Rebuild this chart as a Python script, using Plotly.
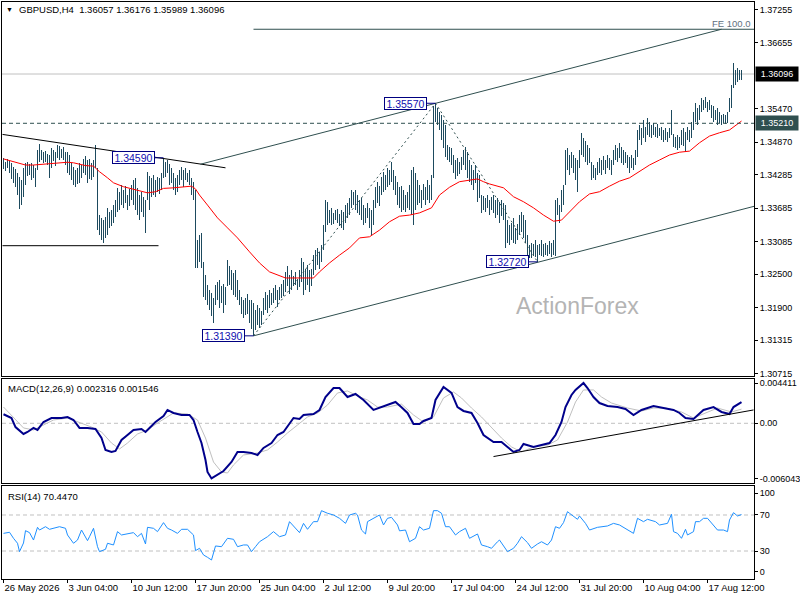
import plotly.graph_objects as go

# ---------------- data ----------------
title_text = "GBPUSD,H4\u00a0\u00a01.36057 1.36176 1.35989 1.36096"

highs = [
    1.3458, 1.3452, 1.3456, 1.3454, 1.3449, 1.3443, 1.3438, 1.3431, 1.3424, 1.3419,
    1.3440, 1.3449, 1.3451, 1.3447, 1.3449, 1.3446, 1.3440, 1.3473, 1.3483, 1.3473,
    1.3469, 1.3471, 1.3465, 1.3464, 1.3476, 1.3473, 1.3469, 1.3482, 1.3480, 1.3474,
    1.3478, 1.3469, 1.3469, 1.3464, 1.3449, 1.3442, 1.3437, 1.3440, 1.3449, 1.3446,
    1.3456, 1.3462, 1.3455, 1.3456, 1.3449, 1.3455, 1.3482, 1.3440, 1.3356, 1.3351,
    1.3347, 1.3352, 1.3368, 1.3361, 1.3365, 1.3374, 1.3383, 1.3405, 1.3397, 1.3410,
    1.3401, 1.3408, 1.3392, 1.3403, 1.3410, 1.3419, 1.3422, 1.3405, 1.3392, 1.3397,
    1.3388, 1.3383, 1.3433, 1.3426, 1.3422, 1.3428, 1.3419, 1.3424, 1.3422, 1.3431,
    1.3459, 1.3451, 1.3455, 1.3447, 1.3440, 1.3431, 1.3422, 1.3428, 1.3437, 1.3442,
    1.3437, 1.3440, 1.3431, 1.3437, 1.3422, 1.3415, 1.3401, 1.3311, 1.3320, 1.3324,
    1.3271, 1.3248, 1.3230, 1.3221, 1.3216, 1.3207, 1.3230, 1.3235, 1.3239, 1.3228,
    1.3233, 1.3226, 1.3275, 1.3264, 1.3257, 1.3252, 1.3257, 1.3239, 1.3221, 1.3208,
    1.3203, 1.3207, 1.3214, 1.3203, 1.3203, 1.3198, 1.3185, 1.3194, 1.3189, 1.3183,
    1.3207, 1.3217, 1.3212, 1.3221, 1.3216, 1.3225, 1.3230, 1.3221, 1.3226, 1.3233,
    1.3239, 1.3253, 1.3264, 1.3248, 1.3257, 1.3246, 1.3253, 1.3242, 1.3257, 1.3278,
    1.3271, 1.3260, 1.3266, 1.3257, 1.3260, 1.3284, 1.3293, 1.3296, 1.3289, 1.3302,
    1.3338, 1.3383, 1.3379, 1.3365, 1.3369, 1.3360, 1.3365, 1.3367, 1.3358, 1.3365,
    1.3361, 1.3374, 1.3378, 1.3387, 1.3401, 1.3397, 1.3401, 1.3392, 1.3383, 1.3387,
    1.3374, 1.3369, 1.3378, 1.3369, 1.3365, 1.3383, 1.3406, 1.3415, 1.3408, 1.3424,
    1.3433, 1.3428, 1.3440, 1.3437, 1.3451, 1.3437, 1.3426, 1.3415, 1.3406, 1.3408,
    1.3401, 1.3392, 1.3397, 1.3410, 1.3437, 1.3442, 1.3431, 1.3419, 1.3410, 1.3401,
    1.3412, 1.3406, 1.3419, 1.3410, 1.3428, 1.3552, 1.3557, 1.3549, 1.3541, 1.3536,
    1.3527, 1.3518, 1.3482, 1.3478, 1.3477, 1.3464, 1.3455, 1.3458, 1.3451, 1.3460,
    1.3473, 1.3478, 1.3469, 1.3455, 1.3446, 1.3437, 1.3446, 1.3431, 1.3428, 1.3392,
    1.3390, 1.3387, 1.3392, 1.3383, 1.3388, 1.3392, 1.3383, 1.3387, 1.3379, 1.3383,
    1.3378, 1.3374, 1.3347, 1.3338, 1.3342, 1.3351, 1.3333, 1.3340, 1.3356, 1.3361,
    1.3356, 1.3347, 1.3320, 1.3302, 1.3306, 1.3304, 1.3311, 1.3302, 1.3304, 1.3311,
    1.3304, 1.3306, 1.3302, 1.3309, 1.3306, 1.3311, 1.3383, 1.3387, 1.3374, 1.3401,
    1.3410, 1.3473, 1.3476, 1.3464, 1.3469, 1.3464, 1.3458, 1.3455, 1.3473, 1.3504,
    1.3495, 1.3489, 1.3482, 1.3477, 1.3451, 1.3446, 1.3440, 1.3451, 1.3458, 1.3455,
    1.3462, 1.3455, 1.3464, 1.3458, 1.3455, 1.3473, 1.3482, 1.3477, 1.3486, 1.3478,
    1.3473, 1.3469, 1.3464, 1.3460, 1.3464, 1.3458, 1.3473, 1.3509, 1.3518, 1.3513,
    1.3527, 1.3514, 1.3531, 1.3523, 1.3518, 1.3522, 1.3514, 1.3520, 1.3513, 1.3514,
    1.3509, 1.3513, 1.3505, 1.3513, 1.3545, 1.3502, 1.3497, 1.3500, 1.3496, 1.3509,
    1.3513, 1.3505, 1.3514, 1.3509, 1.3523, 1.3541, 1.3557, 1.3549, 1.3554, 1.3566,
    1.3563, 1.3568, 1.3559, 1.3563, 1.3554, 1.3552, 1.3545, 1.3549, 1.3541, 1.3536,
    1.3538, 1.3536, 1.3541, 1.3566, 1.3590, 1.3629, 1.3617, 1.3620, 1.3617, 1.36176,
]
lows = [
    1.3438, 1.3435, 1.3440, 1.3431, 1.3420, 1.3413, 1.3406, 1.3392, 1.3367, 1.3374,
    1.3388, 1.3410, 1.3426, 1.3428, 1.3419, 1.3422, 1.3406, 1.3437, 1.3451, 1.3455,
    1.3449, 1.3451, 1.3446, 1.3422, 1.3440, 1.3453, 1.3444, 1.3458, 1.3455, 1.3458,
    1.3455, 1.3446, 1.3431, 1.3428, 1.3419, 1.3410, 1.3406, 1.3412, 1.3413, 1.3422,
    1.3431, 1.3428, 1.3413, 1.3420, 1.3419, 1.3424, 1.3440, 1.3329, 1.3320, 1.3311,
    1.3305, 1.3315, 1.3320, 1.3333, 1.3336, 1.3342, 1.3352, 1.3361, 1.3365, 1.3374,
    1.3369, 1.3378, 1.3365, 1.3372, 1.3383, 1.3374, 1.3365, 1.3356, 1.3347, 1.3361,
    1.3352, 1.3323, 1.3383, 1.3365, 1.3388, 1.3392, 1.3388, 1.3397, 1.3394, 1.3401,
    1.3422, 1.3424, 1.3431, 1.3410, 1.3413, 1.3401, 1.3392, 1.3397, 1.3410, 1.3419,
    1.3406, 1.3419, 1.3415, 1.3410, 1.3392, 1.3383, 1.3261, 1.3261, 1.3271, 1.3261,
    1.3208, 1.3203, 1.3194, 1.3185, 1.3174, 1.3162, 1.3194, 1.3203, 1.3189, 1.3198,
    1.3180, 1.3194, 1.3228, 1.3230, 1.3221, 1.3212, 1.3208, 1.3203, 1.3194, 1.3178,
    1.3171, 1.3176, 1.3178, 1.3162, 1.3151, 1.3139, 1.3149, 1.3158, 1.3153, 1.3158,
    1.3176, 1.3185, 1.3180, 1.3189, 1.3194, 1.3198, 1.3203, 1.3190, 1.3203, 1.3207,
    1.3210, 1.3217, 1.3228, 1.3214, 1.3221, 1.3228, 1.3230, 1.3221, 1.3226, 1.3235,
    1.3212, 1.3221, 1.3230, 1.3217, 1.3228, 1.3248, 1.3257, 1.3266, 1.3260, 1.3271,
    1.3293, 1.3325, 1.3338, 1.3342, 1.3338, 1.3340, 1.3347, 1.3342, 1.3336, 1.3333,
    1.3329, 1.3342, 1.3351, 1.3356, 1.3369, 1.3374, 1.3365, 1.3360, 1.3356, 1.3347,
    1.3338, 1.3342, 1.3351, 1.3333, 1.3320, 1.3338, 1.3369, 1.3378, 1.3372, 1.3392,
    1.3397, 1.3401, 1.3406, 1.3410, 1.3415, 1.3401, 1.3392, 1.3374, 1.3369, 1.3361,
    1.3365, 1.3361, 1.3369, 1.3365, 1.3356, 1.3338, 1.3365, 1.3374, 1.3378, 1.3369,
    1.3383, 1.3374, 1.3383, 1.3378, 1.3383, 1.3422, 1.3523, 1.3518, 1.3509, 1.3491,
    1.3477, 1.3460, 1.3455, 1.3451, 1.3446, 1.3431, 1.3420, 1.3426, 1.3429, 1.3437,
    1.3446, 1.3437, 1.3422, 1.3415, 1.3410, 1.3401, 1.3413, 1.3379, 1.3387, 1.3360,
    1.3365, 1.3361, 1.3369, 1.3356, 1.3365, 1.3360, 1.3351, 1.3356, 1.3342, 1.3354,
    1.3347, 1.3297, 1.3306, 1.3302, 1.3311, 1.3306, 1.3304, 1.3311, 1.3320, 1.3325,
    1.3315, 1.3306, 1.3284, 1.3278, 1.3278, 1.3282, 1.3280, 1.3272, 1.3284, 1.3282,
    1.3280, 1.3284, 1.3282, 1.3286, 1.3280, 1.3284, 1.3282, 1.3356, 1.3342, 1.3361,
    1.3374, 1.3410, 1.3437, 1.3428, 1.3440, 1.3431, 1.3419, 1.3397, 1.3440, 1.3464,
    1.3460, 1.3451, 1.3446, 1.3449, 1.3419, 1.3422, 1.3419, 1.3428, 1.3431, 1.3428,
    1.3437, 1.3429, 1.3440, 1.3437, 1.3428, 1.3446, 1.3455, 1.3451, 1.3458, 1.3449,
    1.3446, 1.3449, 1.3440, 1.3431, 1.3440, 1.3437, 1.3446, 1.3460, 1.3491, 1.3482,
    1.3495, 1.3487, 1.3500, 1.3497, 1.3495, 1.3500, 1.3497, 1.3495, 1.3498, 1.3491,
    1.3487, 1.3491, 1.3487, 1.3495, 1.3500, 1.3478, 1.3477, 1.3473, 1.3477, 1.3482,
    1.3480, 1.3469, 1.3491, 1.3487, 1.3495, 1.3509, 1.3523, 1.3518, 1.3527, 1.3541,
    1.3545, 1.3549, 1.3541, 1.3545, 1.3531, 1.3523, 1.3527, 1.3518, 1.3522, 1.3518,
    1.3522, 1.3520, 1.3522, 1.3541, 1.3549, 1.3584, 1.3590, 1.3595, 1.3599, 1.35989,
]
bar_idx = list(range(len(highs)))

# moving average (red line)
ma_idx = [0, 6, 11, 15, 22, 32, 35, 41, 45, 48, 52, 55, 60, 66, 72, 76, 80, 85, 92, 94,
          96, 98, 102, 107, 112, 117, 123, 128, 133, 141, 148, 155, 158, 163, 168, 173, 178, 183, 188, 193,
          198, 203, 208, 214, 218, 223, 228, 233, 237, 240, 243, 250, 255, 260, 265, 270, 275, 279, 283, 288,
          293, 298, 303, 308, 313, 318, 323, 328, 333, 338, 343, 348, 353, 358, 363, 369]
ma_val = [1.3457, 1.3451, 1.3446, 1.3446, 1.3448, 1.3451, 1.3450, 1.3445, 1.3444, 1.3434,
          1.3423, 1.3414, 1.3407, 1.3401, 1.3396, 1.3398, 1.3404, 1.3405, 1.3407, 1.3408,
          1.3403, 1.3392, 1.3374, 1.3351, 1.3333, 1.3315, 1.3290, 1.3270, 1.3254, 1.3243,
          1.3243, 1.3243, 1.3254, 1.3270, 1.3284, 1.3297, 1.3315, 1.3317, 1.3329, 1.3344,
          1.3354, 1.3356, 1.3360, 1.3369, 1.3392, 1.3406, 1.3416, 1.3419, 1.3421, 1.3416,
          1.3412, 1.3405, 1.3389, 1.3380, 1.3369, 1.3356, 1.3345, 1.3347, 1.3362, 1.3380,
          1.3394, 1.3398, 1.3408, 1.3417, 1.3423, 1.3434, 1.3446, 1.3455, 1.3464, 1.3469,
          1.3471, 1.3486, 1.3498, 1.3504, 1.3509, 1.3525]

# MACD main line
macd_idx = [0, 4, 6, 10, 12, 15, 17, 20, 24, 29,
            32, 35, 38, 42, 46, 49, 51, 54, 56, 59,
            62, 65, 69, 71, 73, 76, 80, 82, 85, 89,
            93, 95, 97, 99, 101, 102, 104, 107, 110, 114,
            117, 120, 124, 127, 130, 134, 137, 140, 143, 145,
            148, 150, 155, 158, 161, 165, 168, 172, 176, 180,
            185, 189, 193, 196, 199, 202, 205, 208, 210, 214,
            216, 220, 224, 227, 230, 234, 237, 240, 245, 249,
            252, 255, 258, 260, 265, 269, 273, 276, 279, 281,
            284, 286, 290, 292, 295, 298, 302, 307, 311, 315,
            319, 325, 330, 335, 338, 341, 345, 350, 355, 359,
            363, 365, 369]
macd_val = [0.00099, 0.00058, -0.00041, -0.00117, -0.00095, -0.00051, -0.00073, 0.00014, 0.00058, 0.00058,
            0.00069, 0.00036, -0.00051, -0.00051, -0.00062, -0.00161, -0.00292, -0.00314, -0.00303, -0.00183,
            -0.00128, -0.00073, -0.00062, -0.00095, -0.00051, 0.00014, 0.00080, 0.00146, 0.00113, 0.00091,
            0.00091, 0.00036, -0.00095, -0.00216, -0.00402, -0.00533, -0.00604, -0.00566, -0.00522, -0.00424,
            -0.00314, -0.00314, -0.00325, -0.00347, -0.00270, -0.00216, -0.00128, -0.00095, -0.00008, 0.00058,
            0.00047, 0.00091, 0.00102, 0.00146, 0.00288, 0.00386, 0.00386, 0.00288, 0.00321, 0.00255,
            0.00146, 0.00178, 0.00211, 0.00233, 0.00175, 0.00113, -0.00008, -0.00008, 0.00025, 0.00058,
            0.00255, 0.00397, 0.00332, 0.00178, 0.00135, 0.00113, 0.00003, -0.00128, -0.00205, -0.00205,
            -0.00259, -0.00314, -0.00292, -0.00227, -0.00259, -0.00238, -0.00216, -0.00128, 0.00014, 0.00178,
            0.00310, 0.00365, 0.00441, 0.00386, 0.00288, 0.00222, 0.00189, 0.00178, 0.00157, 0.00091,
            0.00146, 0.00189, 0.00167, 0.00146, 0.00113, 0.00058, 0.00047, 0.00146, 0.00178, 0.00124,
            0.00102, 0.00178, 0.00232]

# MACD signal line
sig_idx = [0, 5, 10, 15, 20, 25, 32, 37, 44, 49,
           54, 58, 62, 67, 72, 77, 82, 85, 92, 97,
           101, 105, 109, 112, 115, 120, 127, 132, 137, 142,
           147, 152, 157, 162, 167, 172, 177, 182, 187, 192,
           199, 205, 210, 215, 220, 225, 229, 234, 239, 244,
           249, 254, 259, 265, 272, 277, 282, 286, 290, 295,
           299, 304, 312, 319, 325, 331, 339, 345, 352, 357,
           364, 369]
sig_val = [0.00178, 0.00058, -0.00051, -0.00073, -0.00019, 0.00036, 0.00058, 0.00014, -0.00041, -0.00095,
           -0.00216, -0.00281, -0.00216, -0.00117, -0.00073, 0.00003, 0.00069, 0.00113, 0.00102, 0.00036,
           -0.00161, -0.00424, -0.00533, -0.00544, -0.00456, -0.00347, -0.00325, -0.00292, -0.00205, -0.00106,
           -0.00019, 0.00069, 0.00113, 0.00200, 0.00332, 0.00354, 0.00299, 0.00255, 0.00178, 0.00178,
           0.00210, 0.00091, 0.00014, 0.00069, 0.00277, 0.00343, 0.00277, 0.00167, 0.00069, -0.00051,
           -0.00161, -0.00259, -0.00314, -0.00259, -0.00238, -0.00183, 0.00014, 0.00233, 0.00365, 0.00365,
           0.00288, 0.00222, 0.00167, 0.00135, 0.00167, 0.00167, 0.00124, 0.00058, 0.00124, 0.00167,
           0.00124, 0.00155]

# RSI(14)
rsi_idx = [0, 3, 5, 7, 8, 10, 11, 13, 15, 17,
           18, 21, 23, 26, 28, 31, 32, 35, 37, 39,
           42, 43, 45, 47, 48, 51, 52, 55, 57, 59,
           62, 65, 67, 69, 71, 72, 75, 77, 80, 82,
           84, 87, 89, 92, 95, 96, 98, 100, 102, 104,
           106, 109, 112, 115, 117, 120, 122, 124, 126, 128,
           132, 135, 138, 141, 143, 146, 148, 150, 152, 155,
           157, 159, 162, 165, 168, 171, 173, 176, 177, 179,
           181, 182, 186, 188, 190, 192, 194, 197, 198, 201,
           203, 206, 208, 210, 213, 215, 217, 219, 221, 223,
           226, 228, 231, 233, 237, 239, 242, 244, 247, 248,
           252, 255, 257, 259, 262, 264, 267, 269, 272, 274,
           276, 278, 280, 282, 283, 285, 287, 288, 291, 293,
           297, 302, 305, 308, 312, 315, 317, 320, 322, 326,
           328, 332, 334, 335, 337, 339, 341, 342, 345, 346,
           348, 350, 352, 355, 357, 360, 362, 363, 365, 367,
           369]
rsi_val = [49.6, 50.8, 44.1, 38.6, 29.3, 38.9, 52.6, 50.4, 42.2, 56.3,
           53.3, 57.0, 54.1, 56.3, 57.0, 55.2, 47.8, 38.6, 42.2, 53.3,
           41.5, 45.9, 55.2, 34.8, 29.3, 31.9, 38.6, 36.7, 51.5, 47.8,
           48.9, 50.4, 45.9, 49.6, 37.8, 56.3, 55.2, 51.5, 61.5, 55.2,
           53.3, 49.6, 54.1, 54.1, 47.8, 30.4, 33.0, 25.6, 23.0, 20.0,
           35.6, 34.8, 44.1, 43.0, 34.8, 36.7, 36.7, 29.3, 34.8, 40.3,
           45.9, 51.5, 45.9, 47.8, 62.6, 55.2, 50.4, 60.7, 54.1, 62.6,
           62.6, 74.8, 71.9, 70.0, 66.3, 60.7, 70.0, 71.9, 70.0, 53.3,
           48.9, 62.6, 68.1, 70.0, 58.9, 66.3, 67.4, 58.9, 52.4, 53.3,
           40.3, 44.1, 57.0, 53.3, 55.2, 74.8, 74.8, 71.9, 57.0, 57.0,
           47.8, 51.5, 55.2, 44.1, 48.9, 36.7, 34.8, 33.0, 40.3, 42.2,
           29.3, 33.0, 38.6, 45.9, 39.3, 33.0, 37.8, 40.3, 36.7, 42.2,
           57.0, 55.2, 61.5, 73.7, 71.9, 68.1, 65.2, 68.9, 60.7, 53.3,
           56.3, 57.8, 60.7, 58.9, 53.3, 49.6, 66.3, 62.6, 65.2, 62.6,
           58.9, 60.7, 70.8, 51.5, 49.6, 44.1, 54.1, 47.8, 51.5, 62.6,
           62.6, 66.3, 66.3, 58.9, 53.3, 53.3, 51.5, 64.4, 72.6, 68.9,
           70.447]

x_tick_idx = [0, 32, 64, 96, 128, 160, 192, 224, 256, 288, 320, 352]
x_tick_labels = ["26 May 2026", "3 Jun 04:00", "10 Jun 12:00", "17 Jun 20:00", "25 Jun 04:00",
                 "2 Jul 12:00", "9 Jul 20:00", "17 Jul 04:00", "24 Jul 12:00", "31 Jul 20:00",
                 "10 Aug 04:00", "17 Aug 12:00"]
price_ticks = [1.37255, 1.36655, 1.35470, 1.34870, 1.34285, 1.33685, 1.33085,
               1.32500, 1.31900, 1.31315, 1.30715]
macd_ticks = [0.004411, 0.0, -0.006043]
macd_tick_text = ["0.004411", "0.00", "-0.006043"]
rsi_tick_pos = [94.4, 70, 30, 6.7]
rsi_tick_text = ["100", "70", "30", "0"]
rsi_levels = [70, 30]

last_price = 1.36096
level_price = 1.35210
fe_level = 1.3690
fe_start_idx = 125

swing_idx = [80, 216, 125, 267]
swing_price = [1.34590, 1.35570, 1.31390, 1.32720]
zigzag_idx = [125, 216, 267]
zigzag_price = [1.3139, 1.3557, 1.3272]

desc_idx, desc_price = [-0.5, 111], [1.3501, 1.3441]
support_idx, support_price = [-0.5, 77.5], [1.3301, 1.3301]
chan_low_idx, chan_low_price = [125, 375.5], [1.3139, 1.3372]
chan_up_idx, chan_up_price = [98.5, 359], [1.34475, 1.3690]
macd_trend_idx, macd_trend_val = [245, 375], [-0.00364, 0.00146]

# ---------------- styling / layout ----------------
W, H = 800, 600
ML, MR, MT, MB = 2, 46, 2, 21
PH = H - MT - MB
PW = W - ML - MR
X_RANGE = [-0.75, 375.25]


def py(p):
    return (H - MB - p) / PH


def pxx(p):
    return (p - ML) / PW


FONT = "Liberation Sans, Arial, sans-serif"
BAR_COLOR = "#1D4A5E"
SLATE = "#2F4F4F"
SILVER = "#C0C0C0"
NAVY_TXT = "#1010B0"

fig = go.Figure()

fig.add_trace(go.Bar(
    x=bar_idx, y=[h - l for h, l in zip(highs, lows)], base=lows, width=0.5,
    marker=dict(color=BAR_COLOR, line=dict(width=0)), xaxis="x", yaxis="y", hoverinfo="skip"))
fig.add_trace(go.Scatter(x=ma_idx, y=ma_val, mode="lines", line=dict(color="#FF0000", width=1),
                         xaxis="x", yaxis="y", hoverinfo="skip"))
fig.add_trace(go.Scatter(x=zigzag_idx, y=zigzag_price, mode="lines",
                         line=dict(color=SLATE, width=1, dash="2px,3px"), xaxis="x", yaxis="y", hoverinfo="skip"))

fig.add_trace(go.Scatter(x=sig_idx, y=sig_val, mode="lines", line=dict(color=SILVER, width=1),
                         xaxis="x2", yaxis="y2", hoverinfo="skip"))
fig.add_trace(go.Scatter(x=macd_idx, y=macd_val, mode="lines", line=dict(color="#00008B", width=2),
                         xaxis="x2", yaxis="y2", hoverinfo="skip"))
fig.add_trace(go.Scatter(x=macd_trend_idx, y=macd_trend_val, mode="lines", line=dict(color="black", width=1),
                         xaxis="x2", yaxis="y2", hoverinfo="skip"))

fig.add_trace(go.Scatter(x=rsi_idx, y=rsi_val, mode="lines", line=dict(color="#1E90FF", width=1),
                         xaxis="x3", yaxis="y3", hoverinfo="skip"))

shapes = []
shapes.append(dict(type="line", xref="x domain", yref="y", x0=0, x1=1, y0=last_price, y1=last_price,
                   line=dict(color=SILVER, width=1), layer="below"))
shapes.append(dict(type="line", xref="x domain", yref="y", x0=0, x1=1, y0=level_price, y1=level_price,
                   line=dict(color=SLATE, width=1, dash="4px,3px")))
shapes.append(dict(type="line", xref="x", yref="y", x0=fe_start_idx, x1=X_RANGE[1], y0=fe_level, y1=fe_level,
                   line=dict(color=SLATE, width=1)))
for xs, ys, col in [(desc_idx, desc_price, "black"), (support_idx, support_price, "black"),
                    (chan_low_idx, chan_low_price, SLATE), (chan_up_idx, chan_up_price, SLATE)]:
    shapes.append(dict(type="line", xref="x", yref="y", x0=xs[0], x1=xs[1], y0=ys[0], y1=ys[1],
                       line=dict(color=col, width=1)))
for i, p in zip(swing_idx, swing_price):
    shapes.append(dict(type="line", xref="x", yref="y", x0=i - 4.5, x1=i, y0=p, y1=p,
                       line=dict(color="#000080", width=1)))
shapes.append(dict(type="line", xref="x2 domain", yref="y2", x0=0, x1=1, y0=0, y1=0,
                   line=dict(color=SILVER, width=1, dash="4px,3px"), layer="below"))
for lv in rsi_levels:
    shapes.append(dict(type="line", xref="x3 domain", yref="y3", x0=0, x1=1, y0=lv, y1=lv,
                       line=dict(color=SILVER, width=1, dash="4px,3px"), layer="below"))

ann = []
ann.append(dict(text="\u25BC", xref="paper", yref="paper", x=pxx(9.5), y=py(10), xanchor="center",
                yanchor="middle", showarrow=False, font=dict(size=7, color="black", family=FONT)))
ann.append(dict(text=title_text, xref="paper", yref="paper", x=pxx(17), y=py(10), xanchor="left",
                yanchor="middle", showarrow=False, font=dict(size=9.5, color="black", family=FONT)))
ann.append(dict(text="MACD(12,26,9) 0.002316 0.001546", xref="paper", yref="paper", x=pxx(6), y=py(388),
                xanchor="left", yanchor="middle", showarrow=False, font=dict(size=9.5, color="black", family=FONT)))
ann.append(dict(text="RSI(14) 70.4470", xref="paper", yref="paper", x=pxx(6), y=py(496),
                xanchor="left", yanchor="middle", showarrow=False, font=dict(size=9.5, color="black", family=FONT)))
ann.append(dict(text="FE 100.0", xref="paper", yref="paper", x=pxx(753), y=py(23), xanchor="right",
                yanchor="middle", showarrow=False, font=dict(size=9.5, color="#5F7080", family=FONT)))
ann.append(dict(text="ActionForex", xref="paper", yref="paper", x=pxx(577), y=py(306), xanchor="center",
                yanchor="middle", showarrow=False, font=dict(size=23, color="#B4B4B4", family=FONT)))
for i, p in zip(swing_idx, swing_price):
    ann.append(dict(text=f"{p:.5f}", xref="x", yref="y", x=i - 4.5, y=p, xanchor="right", yanchor="middle",
                    showarrow=False, bgcolor="white", bordercolor="#000080", borderwidth=1, borderpad=0,
                    width=41, height=11, font=dict(size=10.5, color=NAVY_TXT, family=FONT)))
for p, bg in [(last_price, "black"), (level_price, SLATE)]:
    ann.append(dict(text=f"{p:.5f}", xref="paper", yref="y", x=1, y=p, xanchor="left", yanchor="middle",
                    xshift=1, showarrow=False, bgcolor=bg, borderpad=1, width=40, height=12,
                    font=dict(size=9, color="white", family=FONT)))

axc = dict(showgrid=False, zeroline=False, showline=True, linecolor="black", linewidth=1, mirror=True,
           automargin=False)
tickf = dict(size=9, color="black", family=FONT)

fig.update_layout(
    width=W, height=H, margin=dict(l=ML, r=MR, t=MT, b=MB, pad=0, autoexpand=False),
    paper_bgcolor="white", plot_bgcolor="white", showlegend=False,
    bargap=0, shapes=shapes, annotations=ann,
    xaxis=dict(domain=[0, 1], range=X_RANGE, anchor="y", showticklabels=False, ticks="", **axc),
    xaxis2=dict(domain=[0, 1], range=X_RANGE, anchor="y2", showticklabels=False, ticks="", **axc),
    xaxis3=dict(domain=[0, 1], range=X_RANGE, anchor="y3", tickvals=x_tick_idx, ticktext=x_tick_labels,
                ticks="outside", ticklen=3, tickcolor="black", ticklabelposition="outside right",
                tickangle=0, tickfont=dict(size=9.5, color="black", family=FONT), **axc),
    yaxis=dict(domain=[py(376), 1], range=[1.30668, 1.37390], anchor="x", side="right",
               tickvals=price_ticks, ticktext=[f"{v:.5f}" for v in price_ticks],
               ticks="outside", ticklen=3, tickcolor="black", tickfont=tickf, **axc),
    yaxis2=dict(domain=[py(483), py(379)], range=[-0.006536, 0.004849], anchor="x2", side="right",
                tickvals=macd_ticks, ticktext=macd_tick_text,
                ticks="outside", ticklen=3, tickcolor="black", tickfont=tickf, **axc),
    yaxis3=dict(domain=[0, py(486)], range=[-1.1, 102.2], anchor="x3", side="right",
                tickvals=rsi_tick_pos, ticktext=rsi_tick_text,
                ticks="outside", ticklen=3, tickcolor="black", tickfont=tickf, **axc),
)

fig.write_html("out.html", config={"displayModeBar": False},
               post_script="document.body.style.margin='0';document.body.style.overflow='hidden';")
